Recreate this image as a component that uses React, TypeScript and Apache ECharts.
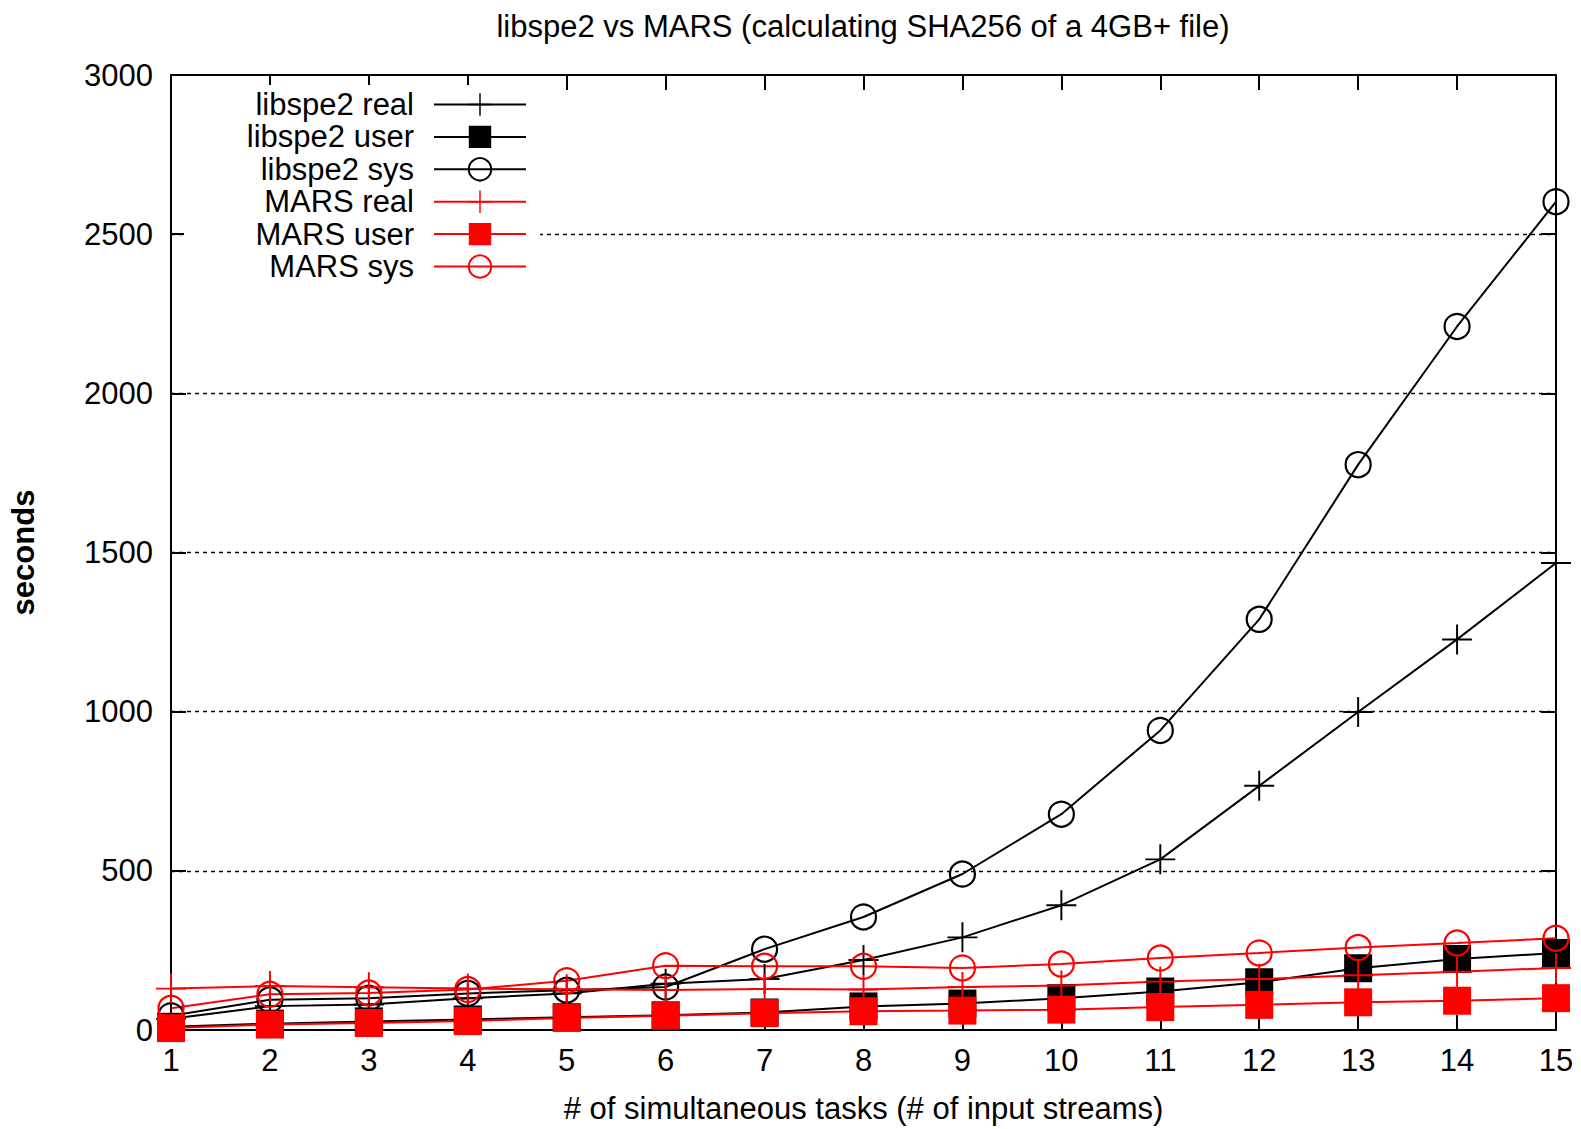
import React, { useEffect, useRef } from "react";
import * as echarts from "echarts";

const taskCounts = [1, 2, 3, 4, 5, 6, 7, 8, 9, 10, 11, 12, 13, 14, 15];
const libspe2Real = [35, 75, 80, 100, 115, 145, 160, 220, 291, 392, 536, 767, 999, 1227, 1467];
const libspe2User = [10, 20, 27, 33, 40, 46, 55, 74, 83, 100, 121, 150, 194, 223, 242];
const libspe2Sys = [45, 95, 100, 115, 125, 135, 254, 355, 490, 678, 941, 1290, 1776, 2210, 2602];
const marsReal = [130, 138, 134, 130, 128, 126, 129, 127, 135, 140, 152, 160, 172, 183, 195];
const marsUser = [6, 17, 22, 28, 38, 45, 53, 59, 61, 64, 72, 79, 87, 92, 100];
const marsSys = [68, 112, 116, 127, 155, 202, 200, 200, 195, 207, 226, 242, 259, 273, 288];

const seriesNames = ["libspe2 real", "libspe2 user", "libspe2 sys", "MARS real", "MARS user", "MARS sys"];
const titleText = "libspe2 vs MARS (calculating SHA256 of a 4GB+ file)";
const xName = "# of simultaneous tasks (# of input streams)";
const yName = "seconds";

const FONT = "'Liberation Sans', Arial, sans-serif";
const FS = 31;
const PLUS = "path://M0,9.35 L20,9.35 L20,10.65 L0,10.65 Z M9.35,0 L10.65,0 L10.65,20 L9.35,20 Z";

function pairs(vals: number[]) {
  return taskCounts.map((t, i) => [t, vals[i]]);
}

function makeSeries(name: string, vals: number[], color: string, kind: "plus" | "square" | "circle") {
  const base: any = {
    name,
    type: "line",
    data: pairs(vals),
    lineStyle: { color, width: 2 },
    showSymbol: true,
    emphasis: { disabled: true },
  };
  if (kind === "plus") {
    base.symbol = PLUS;
    base.symbolSize = 30;
    base.itemStyle = { color, borderWidth: 0 };
  } else if (kind === "square") {
    base.symbol = "rect";
    base.symbolSize = 28;
    base.itemStyle = { color, borderWidth: 0 };
  } else {
    base.symbol = "circle";
    base.symbolSize = 25;
    base.itemStyle = { color: "rgba(0,0,0,0)", borderColor: color, borderWidth: 2.2 };
  }
  return base;
}

export default function App() {
  const ref = useRef<HTMLDivElement>(null);
  useEffect(() => {
    document.body.style.margin = "0";
    const chart = echarts.init(ref.current!, undefined, { renderer: "svg" });
    const axisCommon = {
      type: "value" as const,
      axisLine: { show: true, onZero: false, lineStyle: { color: "#000", width: 2 } },
      axisTick: { show: true, inside: true, length: 15, lineStyle: { color: "#000", width: 2 } },
    };
    chart.setOption({
      animation: false,
      backgroundColor: "#fff",
      title: {
        text: titleText,
        left: 863,
        textAlign: "center",
        top: 11,
        padding: 0,
        textStyle: { fontFamily: FONT, fontSize: FS, fontWeight: "normal", color: "#000" },
      },
      legend: {
        orient: "vertical",
        right: 1041,
        top: 85,
        align: "right",
        padding: [4, 13, 4, 0],
        backgroundColor: "#fff",
        itemWidth: 92,
        itemHeight: 28,
        itemGap: 1.4,
        selectedMode: false,
        data: seriesNames,
        textStyle: {
          fontFamily: FONT,
          fontSize: FS,
          color: "#000",
          lineHeight: 28,
          width: 230,
          align: "right",
          padding: [0, 15, 0, 0],
        },
      },
      grid: { left: 171, right: 25, top: 75, bottom: 98, containLabel: false },
      xAxis: [
        {
          ...axisCommon,
          position: "bottom",
          min: 1,
          max: 15,
          interval: 1,
          name: xName,
          nameLocation: "middle",
          nameGap: 63,
          nameTextStyle: { fontFamily: FONT, fontSize: FS, color: "#000" },
          axisLabel: { fontFamily: FONT, fontSize: FS, color: "#000", margin: 15 },
          splitLine: { show: false },
        },
        {
          ...axisCommon,
          position: "top",
          min: 1,
          max: 15,
          interval: 1,
          axisLabel: { show: false },
          splitLine: { show: false },
        },
      ],
      yAxis: [
        {
          ...axisCommon,
          position: "left",
          min: 0,
          max: 3000,
          interval: 500,
          name: yName,
          nameLocation: "middle",
          nameRotate: 90,
          nameGap: 132,
          nameTextStyle: { fontFamily: FONT, fontSize: FS, color: "#000", fontWeight: "bold" },
          axisLabel: {
            fontFamily: FONT,
            fontSize: FS,
            color: "#000",
            margin: 18,
            formatter: (v: number) => String(v),
          },
          splitLine: {
            show: true,
            showMinLine: false,
            showMaxLine: false,
            lineStyle: { color: "#000", width: 1.3, type: [4, 4] },
          },
        },
        {
          ...axisCommon,
          position: "right",
          min: 0,
          max: 3000,
          interval: 500,
          axisLabel: { show: false },
          splitLine: { show: false },
        },
      ],
      series: [
        makeSeries(seriesNames[0], libspe2Real, "#000", "plus"),
        makeSeries(seriesNames[1], libspe2User, "#000", "square"),
        makeSeries(seriesNames[2], libspe2Sys, "#000", "circle"),
        makeSeries(seriesNames[3], marsReal, "#ff0000", "plus"),
        makeSeries(seriesNames[4], marsUser, "#ff0000", "square"),
        makeSeries(seriesNames[5], marsSys, "#ff0000", "circle"),
      ],
    });
    return () => chart.dispose();
  }, []);
  return <div ref={ref} style={{ position: "absolute", left: 0, top: 0, width: 1581, height: 1129 }} />;
}
